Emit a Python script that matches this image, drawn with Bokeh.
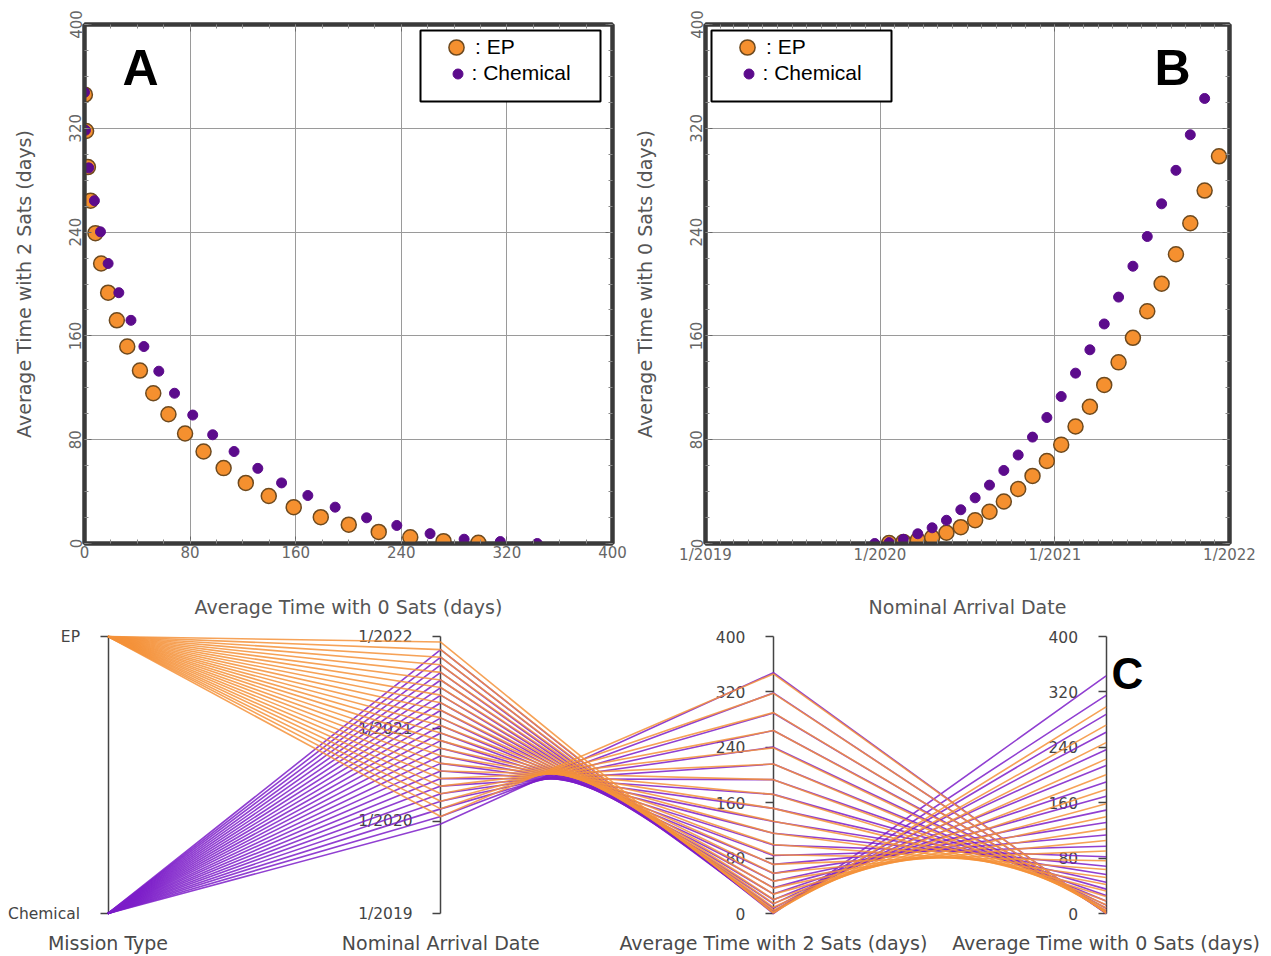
import pandas as pd
from bokeh.plotting import figure
from bokeh.layouts import column, row
from bokeh.models import (Range1d, LinearAxis, DatetimeAxis, SingleIntervalTicker, FixedTicker,
                          Legend, LegendItem, Label, BoxAnnotation, CustomJSTickFormatter)
from bokeh.embed import file_html
from bokeh.resources import INLINE

# ---------------- data ----------------
EP_DATES = ["2020-01-20", "2020-02-19", "2020-03-20", "2020-04-19", "2020-05-19", "2020-06-18",
            "2020-07-18", "2020-08-17", "2020-09-16", "2020-10-16", "2020-11-15", "2020-12-15",
            "2021-01-14", "2021-02-13", "2021-03-15", "2021-04-14", "2021-05-14", "2021-06-13",
            "2021-07-13", "2021-08-12", "2021-09-11", "2021-10-11", "2021-11-10", "2021-12-10"]
CHEM_DATES = ["2019-12-21", "2020-01-20", "2020-02-19", "2020-03-20", "2020-04-19", "2020-05-19",
              "2020-06-18", "2020-07-18", "2020-08-17", "2020-09-16", "2020-10-16", "2020-11-15",
              "2020-12-15", "2021-01-14", "2021-02-13", "2021-03-15", "2021-04-14", "2021-05-14",
              "2021-06-13", "2021-07-13", "2021-08-12", "2021-09-11", "2021-10-11", "2021-11-10"]
# average time with 0 satellites (days)
EP_T0 = [0.3, 1.2, 2.6, 4.6, 8.3, 12.6, 17.9, 24.5, 32.4, 42.0, 52.1, 63.6,
         76.2, 90.2, 105.4, 122.2, 139.6, 158.5, 179.0, 200.2, 222.9, 246.8, 272.0, 298.4]
CHEM_T0 = [0.0, 0.7, 3.2, 7.5, 12.1, 17.9, 26.0, 35.2, 45.0, 56.3, 68.2, 82.0,
           97.1, 113.3, 131.3, 149.3, 169.2, 189.9, 213.7, 236.6, 261.8, 287.6, 315.0, 343.0]
# average time with 2 satellites (days)
EP_T2 = [345.9, 317.9, 290.1, 264.2, 239.2, 215.8, 193.3, 172.0, 151.8, 133.3, 115.8, 99.6,
         84.8, 70.9, 58.1, 46.7, 36.6, 28.0, 20.3, 14.5, 8.9, 4.8, 1.8, 0.5]
CHEM_T2 = [347.7, 318.5, 289.5, 264.2, 240.2, 215.8, 193.3, 172.0, 151.8, 132.8, 115.8, 99.0,
           83.8, 70.9, 57.9, 46.7, 37.0, 28.0, 19.8, 13.9, 7.6, 3.3, 1.5, 0.0]

MISSION_TYPES = ["Chemical", "EP"]
DATE_TICKS = ["2019-01-01", "2020-01-01", "2021-01-01", "2022-01-01"]
DATE_TICK_LABELS = ["1/2019", "1/2020", "1/2021", "1/2022"]
TIME_TICKS = [0, 80, 160, 240, 320, 400]
LEGEND_LABELS = [": EP", ": Chemical"]
AXIS_TITLES_C = ["Mission Type", "Nominal Arrival Date",
                 "Average Time with 2 Sats (days)", "Average Time with 0 Sats (days)"]

# ---------------- style ----------------
EP_FILL = "#f5902f"
EP_EDGE = "#6e4a1f"
CHEM_FILL = "#5c0b8c"
EP_LINE = "#f5923a"
CHEM_LINE = "#7d1dc9"
FRAME = "#3a3a3a"
TICK_FONT = "DejaVu Sans"


def ms(d):
    return pd.Timestamp(d).value / 1e6


DATE_LO, DATE_HI = ms(DATE_TICKS[0]), ms(DATE_TICKS[-1])
date_tick_ms = [ms(d) for d in DATE_TICKS]
date_overrides = {t: l for t, l in zip(date_tick_ms, DATE_TICK_LABELS)}
month_minor = [ms(d) for d in pd.date_range(DATE_TICKS[0], DATE_TICKS[-1], freq="MS")]

ep_dates = pd.to_datetime(EP_DATES)
chem_dates = pd.to_datetime(CHEM_DATES)

TOP_H = 620
TOP_BORDER, BOTTOM_BORDER = 24, 71
FRAME_TOP_PX = TOP_BORDER
FRAME_BOT_PX = TOP_H - BOTTOM_BORDER


def style_axes(p, x_ticker, xlabel, ylabel, ylab_standoff, xlab_standoff, x_overrides=None):
    xa, ya = p.xaxis[0], p.yaxis[0]
    xa.ticker = x_ticker
    if x_overrides:
        xa.major_label_overrides = x_overrides
    ya.ticker = SingleIntervalTicker(interval=80, num_minor_ticks=4)
    for ax in (xa, ya):
        ax.axis_line_color = FRAME
        ax.axis_line_width = 4
        ax.major_tick_in = 7
        ax.major_tick_out = 0
        ax.minor_tick_in = 4
        ax.minor_tick_out = 0
        ax.major_tick_line_color = "#666666"
        ax.minor_tick_line_color = "#888888"
        ax.major_label_text_font = TICK_FONT
        ax.major_label_text_font_size = "15px"
        ax.major_label_text_color = "#666666"
        ax.axis_label_text_font = TICK_FONT
        ax.axis_label_text_font_size = "19px"
        ax.axis_label_text_font_style = "normal"
        ax.axis_label_text_color = "#555555"
    xa.axis_label = xlabel
    ya.axis_label = ylabel
    xa.major_label_standoff = 2
    xa.axis_label_standoff = xlab_standoff
    ya.major_label_orientation = "vertical"
    ya.major_label_standoff = 3
    ya.axis_label_standoff = ylab_standoff
    # mirrored ticks on top and right (no labels)
    top = LinearAxis(ticker=x_ticker)
    right = LinearAxis(ticker=SingleIntervalTicker(interval=80, num_minor_ticks=4))
    for ax in (top, right):
        ax.formatter = CustomJSTickFormatter(code="return ''")
        ax.axis_line_color = FRAME
        ax.axis_line_width = 4
        ax.major_tick_in = 7
        ax.major_tick_out = 0
        ax.minor_tick_in = 4
        ax.minor_tick_out = 0
        ax.major_tick_line_color = "#666666"
        ax.minor_tick_line_color = "#888888"
        ax.major_label_text_font_size = "10px"
        ax.major_label_standoff = 0
    p.add_layout(top, "above")
    p.add_layout(right, "right")
    p.grid.grid_line_color = "#9a9a9a"
    p.grid.grid_line_width = 1
    p.outline_line_color = FRAME
    p.outline_line_width = 4


def add_points_and_legend(p, x_ep, y_ep, x_ch, y_ch, frame_left_px, px2x, py2y):
    r_ep = p.scatter(x_ep, y_ep, size=15, fill_color=EP_FILL, line_color=EP_EDGE, line_width=1.5)
    r_ch = p.scatter(x_ch, y_ch, size=10, fill_color=CHEM_FILL, line_color=CHEM_FILL)
    # legend frame box
    box_l = frame_left_px + 6 if frame_left_px > 400 else 420
    box_r = box_l + 180
    p.add_layout(BoxAnnotation(left=px2x(box_l), right=px2x(box_r), top=py2y(30), bottom=py2y(102),
                               fill_color="white", fill_alpha=1, line_color="black", line_width=2,
                               line_alpha=1))
    cx = box_l + 36
    common = dict(margin=0, padding=0, spacing=0,
                  label_text_font="Liberation Sans", label_text_font_size="21px",
                  label_text_color="black", border_line_color=None, background_fill_alpha=0)
    leg_ep = Legend(items=[LegendItem(label=LEGEND_LABELS[0], renderers=[r_ep])],
                    glyph_width=38, glyph_height=38, label_standoff=-5,
                    location=(cx - 19 - frame_left_px, FRAME_BOT_PX - (53 + 19)), **common)
    leg_ch = Legend(items=[LegendItem(label=LEGEND_LABELS[1], renderers=[r_ch])],
                    glyph_width=25, glyph_height=25, label_standoff=2,
                    location=(cx + 1 - 12.5 - frame_left_px, FRAME_BOT_PX - (79 + 12.5)), **common)
    p.add_layout(leg_ep)
    p.add_layout(leg_ch)


# ---------------- Panel A ----------------
A_L, A_R = 84, 18
A_W = 630
pA = figure(width=A_W, height=TOP_H, x_range=Range1d(0, 400), y_range=Range1d(0, 400),
            output_backend="svg", toolbar_location=None,
            min_border_left=A_L, min_border_right=A_R, min_border_top=TOP_BORDER,
            min_border_bottom=BOTTOM_BORDER)
style_axes(pA, SingleIntervalTicker(interval=80, num_minor_ticks=4),
           "Average Time with 0 Sats (days)", "Average Time with 2 Sats (days)", 32, 35)
A_FW = A_W - A_L - A_R
A_FH = FRAME_BOT_PX - FRAME_TOP_PX
add_points_and_legend(pA, EP_T0, EP_T2, CHEM_T0, CHEM_T2, A_L,
                      lambda px: (px - A_L) / A_FW * 400,
                      lambda py: (FRAME_BOT_PX - py) / A_FH * 400)
pA.add_layout(Label(x=(140 - A_L) / A_FW * 400, y=(FRAME_BOT_PX - 68) / A_FH * 400, text="A",
                    text_font="Liberation Sans", text_font_style="bold", text_font_size="50px",
                    text_color="black", text_align="center", text_baseline="middle"))

# ---------------- Panel B ----------------
B_X0 = A_W
B_L, B_R = 75, 34
B_W = 633
pB = figure(width=B_W, height=TOP_H, x_range=Range1d(DATE_LO, DATE_HI), y_range=Range1d(0, 400),
            x_axis_type="datetime", output_backend="svg", toolbar_location=None,
            min_border_left=B_L, min_border_right=B_R, min_border_top=TOP_BORDER,
            min_border_bottom=BOTTOM_BORDER)
style_axes(pB, FixedTicker(ticks=date_tick_ms, minor_ticks=month_minor),
           "Nominal Arrival Date", "Average Time with 0 Sats (days)", 32, 29, date_overrides)
B_FL = B_X0 + B_L
B_FW = B_W - B_L - B_R
add_points_and_legend(pB, ep_dates, EP_T0, chem_dates, CHEM_T0, B_FL,
                      lambda px: DATE_LO + (px - B_FL) / B_FW * (DATE_HI - DATE_LO),
                      lambda py: (FRAME_BOT_PX - py) / A_FH * 400)
pB.add_layout(Label(x=DATE_LO + (1172 - B_FL) / B_FW * (DATE_HI - DATE_LO),
                    y=(FRAME_BOT_PX - 68) / A_FH * 400, text="B", text_font="Liberation Sans",
                    text_font_style="bold", text_font_size="50px", text_color="black",
                    text_align="center", text_baseline="middle"))

# ---------------- Panel C (parallel coordinates) ----------------
C_W, C_H = A_W + B_W, 334
AX_UNIT = 332.7          # px between axes
AX0_PX = 107.5           # px from figure left to first axis
AX_TOP_PX, AX_BOT_PX = 16, 41   # px margins of the axes inside the figure
AX_H = C_H - AX_TOP_PX - AX_BOT_PX
YB = AX_BOT_PX / AX_H
YT = AX_TOP_PX / AX_H

pC = figure(width=C_W, height=C_H,
            x_range=Range1d(-AX0_PX / AX_UNIT, (C_W - AX0_PX) / AX_UNIT),
            y_range=Range1d(-YB, 1 + YT),
            x_axis_location=None, y_axis_location=None,
            output_backend="svg", toolbar_location=None, min_border=0)
pC.outline_line_color = None
pC.grid.visible = False

VARS = [("mt", 0.0, 1.0), ("date", DATE_LO, DATE_HI), ("s2", 0.0, 400.0), ("s0", 0.0, 400.0)]
pC.extra_y_ranges = {n: Range1d(lo - YB * (hi - lo), hi + YT * (hi - lo)) for n, lo, hi in VARS}


def norm(vals, lo, hi):
    return [(v - lo) / (hi - lo) for v in vals]


def make_c_axis(i, cls, name, lo, hi, ticks, overrides=None):
    ax = cls(y_range_name=name, fixed_location=i, bounds=(lo, hi),
             ticker=FixedTicker(ticks=ticks, minor_ticks=[]))
    ax.axis_line_color = "#444444"
    ax.axis_line_width = 1.5
    ax.major_tick_in = 0
    ax.major_tick_out = 8
    ax.major_tick_line_color = "#444444"
    ax.major_tick_line_width = 1.5
    ax.minor_tick_in = 0
    ax.minor_tick_out = 0
    ax.major_label_standoff = 20
    ax.major_label_text_font = TICK_FONT
    ax.major_label_text_font_size = "15.5px"
    ax.major_label_text_color = "#444444"
    ax.level = "underlay"
    if overrides:
        ax.major_label_overrides = overrides
    pC.add_layout(ax, "left")


make_c_axis(0, LinearAxis, "mt", 0.0, 1.0, [0, 1], {0: MISSION_TYPES[0], 1: MISSION_TYPES[1]})
make_c_axis(1, DatetimeAxis, "date", DATE_LO, DATE_HI, date_tick_ms, date_overrides)
make_c_axis(2, LinearAxis, "s2", 0.0, 400.0, TIME_TICKS)
make_c_axis(3, LinearAxis, "s0", 0.0, 400.0, TIME_TICKS)


def series_lines(mt_value, dates, t2, t0):
    d_ms = [d.value / 1e6 for d in dates]
    mt_n = norm([mt_value] * len(dates), 0.0, 1.0)
    d_n = norm(d_ms, DATE_LO, DATE_HI)
    s2_n = norm(t2, 0.0, 400.0)
    s0_n = norm(t0, 0.0, 400.0)
    xs = [[0, 1, 2, 3] for _ in dates]
    ys = [[a, b, c, d] for a, b, c, d in zip(mt_n, d_n, s2_n, s0_n)]
    return xs, ys


xs_c, ys_c = series_lines(0, chem_dates, CHEM_T2, CHEM_T0)
xs_e, ys_e = series_lines(1, ep_dates, EP_T2, EP_T0)
pC.multi_line(xs=xs_c, ys=ys_c, line_color=CHEM_LINE, line_width=1.6, line_alpha=0.85)
pC.multi_line(xs=xs_e, ys=ys_e, line_color=EP_LINE, line_width=1.6, line_alpha=0.85)

TITLE_Y = -(942 - 913) / AX_H
for i, t in enumerate(AXIS_TITLES_C):
    pC.add_layout(Label(x=i, y=TITLE_Y, text=t, text_font=TICK_FONT, text_font_size="19px",
                        text_color="#4a4a4a", text_align="center", text_baseline="middle"))
pC.add_layout(Label(x=3 + (1111 - 1105.7) / AX_UNIT, y=(913 - 673) / AX_H, text="C",
                    text_font="Liberation Sans", text_font_style="bold",
                    text_font_size="44px", text_color="black", text_align="left",
                    text_baseline="alphabetic"))

layout = column(row(pA, pB), pC)
open("out.html", "w").write(file_html(layout, INLINE))
